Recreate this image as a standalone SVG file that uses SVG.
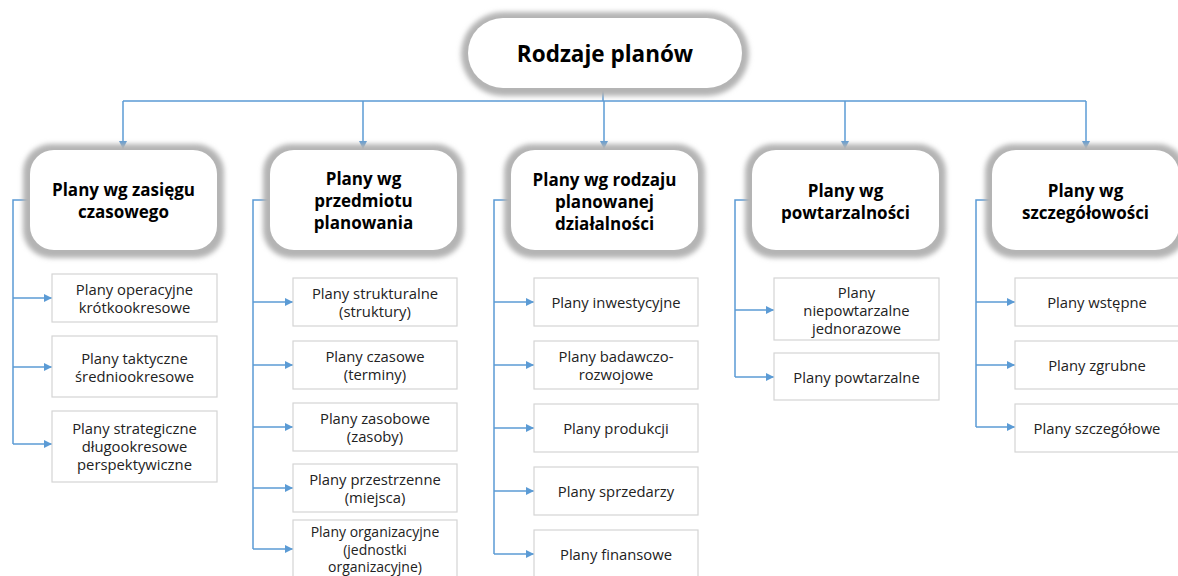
<svg xmlns="http://www.w3.org/2000/svg" width="1178" height="576" viewBox="0 0 1178 576">
  <defs>
    <filter id="soft" x="-20%" y="-20%" width="140%" height="140%">
      <feGaussianBlur stdDeviation="2.5"/>
    </filter>
    <marker id="arrow" viewBox="0 0 10 10" refX="10" refY="5" markerWidth="9" markerHeight="8" markerUnits="userSpaceOnUse" orient="auto">
      <path d="M0,0 L10,5 L0,10 z" fill="#5b9bd5"/>
    </marker>
  </defs>
  <style>
    .halo { fill: #b4b4b4; filter: url(#soft); }
    .card { fill: #ffffff; }
    .leaf { fill: #ffffff; stroke: #d4d4d4; stroke-width: 1.2; }
    .wire { fill: none; stroke: #5b9bd5; stroke-width: 1.5; }
    .tip { marker-end: url(#arrow); }
    .title { font-family: "Open Sans", "Liberation Sans", sans-serif; font-weight: bold; font-size: 22.5px; fill: #000; text-anchor: middle; dominant-baseline: central; }
    .head { font-family: "Open Sans", "Liberation Sans", sans-serif; font-weight: bold; font-size: 17px; fill: #000; text-anchor: middle; dominant-baseline: central; }
    .item { font-family: "Open Sans", "Liberation Sans", sans-serif; font-size: 14.8px; fill: #222; text-anchor: middle; dominant-baseline: central; }
    .tight { font-size: 14px; }
  </style>

  <rect width="1178" height="576" fill="#ffffff"/>

  <!-- connectors -->
  <g id="connectors">
    <path class="wire" d="M603,88 V101 M123,101 H1086"/>
    <path class="wire tip" d="M123,101 V149"/>
    <path class="wire tip" d="M363,101 V149"/>
    <path class="wire tip" d="M604,101 V149"/>
    <path class="wire tip" d="M845,101 V149"/>
    <path class="wire tip" d="M1086,101 V149"/>

    <!-- column 1 -->
    <path class="wire" d="M30,200 H13 V444"/>
    <path class="wire tip" d="M13,298 H52"/>
    <path class="wire tip" d="M13,367 H52"/>
    <path class="wire tip" d="M13,444 H52"/>

    <!-- column 2 -->
    <path class="wire" d="M270,200 H253 V549"/>
    <path class="wire tip" d="M253,302 H293"/>
    <path class="wire tip" d="M253,365 H293"/>
    <path class="wire tip" d="M253,427 H293"/>
    <path class="wire tip" d="M253,488 H293"/>
    <path class="wire tip" d="M253,549 H293"/>

    <!-- column 3 -->
    <path class="wire" d="M511,200 H494 V554"/>
    <path class="wire tip" d="M494,302 H534"/>
    <path class="wire tip" d="M494,365 H534"/>
    <path class="wire tip" d="M494,428 H534"/>
    <path class="wire tip" d="M494,491 H534"/>
    <path class="wire tip" d="M494,554 H534"/>

    <!-- column 4 -->
    <path class="wire" d="M752,200 H735 V377"/>
    <path class="wire tip" d="M735,310 H774"/>
    <path class="wire tip" d="M735,377 H774"/>

    <!-- column 5 -->
    <path class="wire" d="M992,200 H976 V427"/>
    <path class="wire tip" d="M976,302 H1015"/>
    <path class="wire tip" d="M976,365 H1015"/>
    <path class="wire tip" d="M976,427 H1015"/>
  </g>

  <!-- root -->
  <g id="root">
    <rect class="halo" x="461" y="12" width="288" height="84" rx="42"/>
    <rect class="card" x="468" y="18" width="274" height="70" rx="35"/>
    <text class="title" x="605" y="53">Rodzaje planów</text>
  </g>

  <!-- category nodes -->
  <g id="cat-zasieg">
    <rect class="halo" x="23" y="144" width="201" height="114" rx="28"/>
    <rect class="card" x="30" y="150" width="187" height="100" rx="24"/>
    <text class="head" x="123.5" y="189">Plany wg zasięgu</text>
    <text class="head" x="123.5" y="211">czasowego</text>
  </g>
  <g id="cat-przedmiot">
    <rect class="halo" x="263" y="144" width="201" height="114" rx="28"/>
    <rect class="card" x="270" y="150" width="187" height="100" rx="24"/>
    <text class="head" x="363.5" y="178">Plany wg</text>
    <text class="head" x="363.5" y="200">przedmiotu</text>
    <text class="head" x="363.5" y="222">planowania</text>
  </g>
  <g id="cat-rodzaj">
    <rect class="halo" x="504" y="144" width="201" height="114" rx="28"/>
    <rect class="card" x="511" y="150" width="187" height="100" rx="24"/>
    <text class="head" x="604.5" y="179">Plany wg rodzaju</text>
    <text class="head" x="604.5" y="201">planowanej</text>
    <text class="head" x="604.5" y="223">działalności</text>
  </g>
  <g id="cat-powtarzalnosc">
    <rect class="halo" x="745" y="144" width="201" height="114" rx="28"/>
    <rect class="card" x="752" y="150" width="187" height="100" rx="24"/>
    <text class="head" x="845.5" y="190">Plany wg</text>
    <text class="head" x="845.5" y="212">powtarzalności</text>
  </g>
  <g id="cat-szczegolowosc">
    <rect class="halo" x="985" y="144" width="201" height="114" rx="28"/>
    <rect class="card" x="992" y="150" width="187" height="100" rx="24"/>
    <text class="head" x="1085.5" y="190">Plany wg</text>
    <text class="head" x="1085.5" y="212">szczegółowości</text>
  </g>

  <!-- column 1 leaves -->
  <g id="leaf-operacyjne">
    <rect class="leaf" x="52" y="274" width="165" height="48"/>
    <text class="item" x="134.5" y="289">Plany operacyjne</text>
    <text class="item" x="134.5" y="307">krótkookresowe</text>
  </g>
  <g id="leaf-taktyczne">
    <rect class="leaf" x="52" y="336" width="165" height="61"/>
    <text class="item" x="134.5" y="358">Plany taktyczne</text>
    <text class="item" x="134.5" y="376">średniookresowe</text>
  </g>
  <g id="leaf-strategiczne">
    <rect class="leaf" x="52" y="411" width="165" height="71"/>
    <text class="item" x="134.5" y="428">Plany strategiczne</text>
    <text class="item" x="134.5" y="446">długookresowe</text>
    <text class="item" x="134.5" y="464">perspektywiczne</text>
  </g>

  <!-- column 2 leaves -->
  <g id="leaf-strukturalne">
    <rect class="leaf" x="293" y="278" width="164" height="48"/>
    <text class="item" x="375" y="293">Plany strukturalne</text>
    <text class="item" x="375" y="311">(struktury)</text>
  </g>
  <g id="leaf-czasowe">
    <rect class="leaf" x="293" y="341" width="164" height="48"/>
    <text class="item" x="375" y="356">Plany czasowe</text>
    <text class="item" x="375" y="374">(terminy)</text>
  </g>
  <g id="leaf-zasobowe">
    <rect class="leaf" x="293" y="403" width="164" height="48"/>
    <text class="item" x="375" y="418">Plany zasobowe</text>
    <text class="item" x="375" y="436">(zasoby)</text>
  </g>
  <g id="leaf-przestrzenne">
    <rect class="leaf" x="293" y="464" width="164" height="48"/>
    <text class="item" x="375" y="479">Plany przestrzenne</text>
    <text class="item" x="375" y="497">(miejsca)</text>
  </g>
  <g id="leaf-organizacyjne">
    <rect class="leaf" x="293" y="520" width="164" height="60"/>
    <text class="item tight" x="375" y="531">Plany organizacyjne</text>
    <text class="item tight" x="375" y="549">(jednostki</text>
    <text class="item tight" x="375" y="566">organizacyjne)</text>
  </g>

  <!-- column 3 leaves -->
  <g id="leaf-inwestycyjne">
    <rect class="leaf" x="534" y="278" width="164" height="48"/>
    <text class="item" x="616" y="302">Plany inwestycyjne</text>
  </g>
  <g id="leaf-badawcze">
    <rect class="leaf" x="534" y="341" width="164" height="48"/>
    <text class="item" x="616" y="356">Plany badawczo-</text>
    <text class="item" x="616" y="374">rozwojowe</text>
  </g>
  <g id="leaf-produkcji">
    <rect class="leaf" x="534" y="404" width="164" height="48"/>
    <text class="item" x="616" y="428">Plany produkcji</text>
  </g>
  <g id="leaf-sprzedarzy">
    <rect class="leaf" x="534" y="467" width="164" height="48"/>
    <text class="item" x="616" y="491">Plany sprzedarzy</text>
  </g>
  <g id="leaf-finansowe">
    <rect class="leaf" x="534" y="530" width="164" height="50"/>
    <text class="item" x="616" y="554">Plany finansowe</text>
  </g>

  <!-- column 4 leaves -->
  <g id="leaf-niepowtarzalne">
    <rect class="leaf" x="774" y="278" width="165" height="62"/>
    <text class="item" x="856.5" y="292">Plany</text>
    <text class="item" x="856.5" y="310">niepowtarzalne</text>
    <text class="item" x="856.5" y="328">jednorazowe</text>
  </g>
  <g id="leaf-powtarzalne">
    <rect class="leaf" x="774" y="353" width="165" height="47"/>
    <text class="item" x="856.5" y="377">Plany powtarzalne</text>
  </g>

  <!-- column 5 leaves -->
  <g id="leaf-wstepne">
    <rect class="leaf" x="1015" y="278" width="164" height="48"/>
    <text class="item" x="1097" y="302">Plany wstępne</text>
  </g>
  <g id="leaf-zgrubne">
    <rect class="leaf" x="1015" y="341" width="164" height="48"/>
    <text class="item" x="1097" y="365">Plany zgrubne</text>
  </g>
  <g id="leaf-szczegolowe">
    <rect class="leaf" x="1015" y="404" width="164" height="48"/>
    <text class="item" x="1097" y="428">Plany szczegółowe</text>
  </g>
</svg>
